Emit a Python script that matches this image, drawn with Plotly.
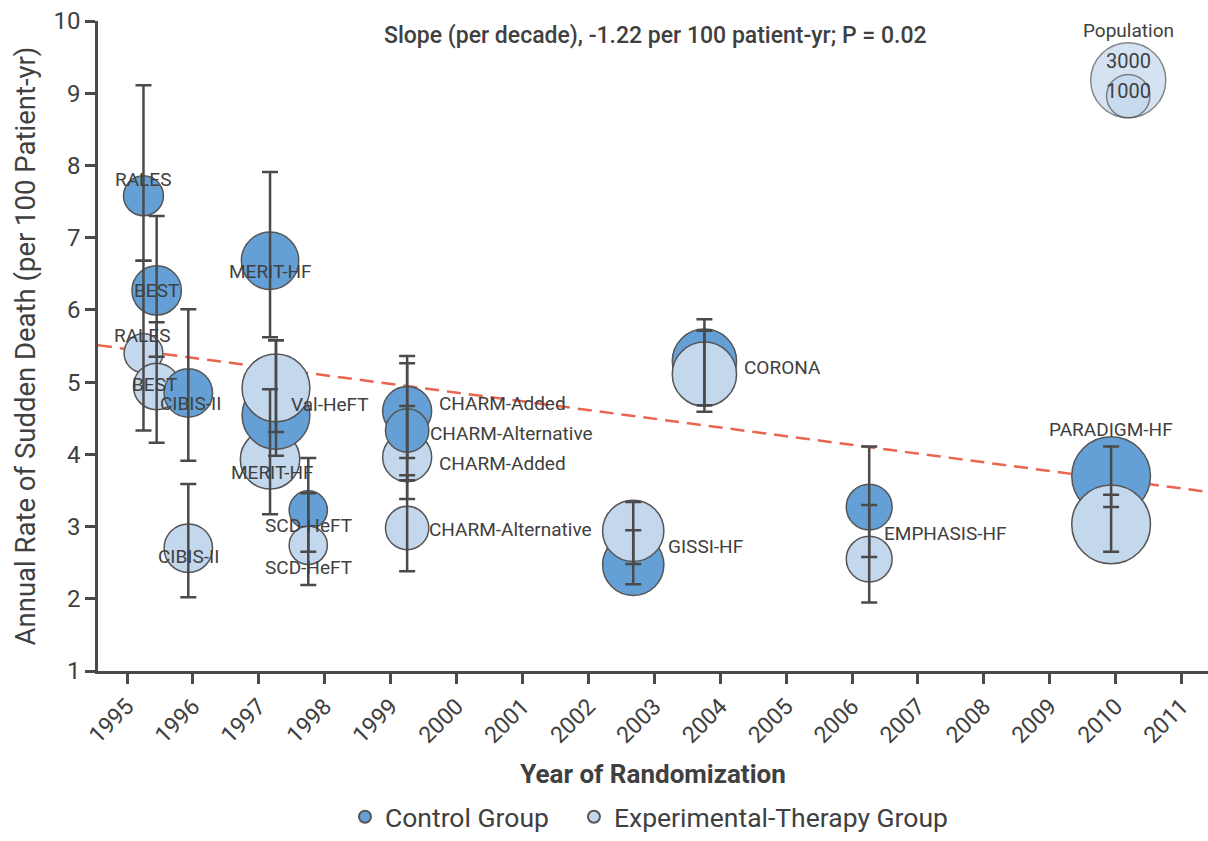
import numpy as np
import plotly.graph_objects as go

# ---------------- data ----------------
trials = ["RALES", "BEST", "CIBIS-II", "MERIT-HF", "Val-HeFT", "SCD-HeFT",
          "CHARM-Added", "CHARM-Alternative", "GISSI-HF", "CORONA",
          "EMPHASIS-HF", "PARADIGM-HF"]
year = [1995.25, 1995.45, 1995.93, 1997.17, 1997.26, 1997.75,
        1999.25, 1999.25, 2002.68, 2003.76, 2006.26, 2009.93]

ctrl_rate = [7.58, 6.27, 4.85, 6.68, 4.54, 3.23, 4.60, 4.33, 2.47, 5.29, 3.27, 3.70]
ctrl_lo   = [6.68, 5.35, 3.91, 5.62, 3.98, 2.65, 3.95, 3.64, 2.20, 4.68, 2.58, 3.27]
ctrl_hi   = [9.11, 7.30, 6.01, 7.91, 5.58, 3.95, 5.36, 5.26, 2.95, 5.87, 4.11, 4.11]
ctrl_n    = [850, 1300, 1250, 1750, 2450, 780, 1280, 1000, 2000, 2200, 1120, 3300]

exp_rate = [5.40, 4.94, 2.70, 3.93, 4.92, 2.74, 3.96, 2.98, 2.94, 5.11, 2.55, 3.03]
exp_lo   = [4.33, 4.16, 2.02, 3.17, 4.31, 2.19, 3.38, 2.38, 2.48, 4.59, 1.95, 2.65]
exp_hi   = [6.68, 5.83, 3.59, 4.90, 5.58, 3.46, 4.67, 3.71, 3.34, 5.71, 3.30, 3.44]
exp_n    = [800, 1150, 1250, 1880, 2450, 780, 1280, 1000, 2000, 2200, 1120, 3300]

ctrl_labels = ["RALES", "BEST", "CIBIS-II", "MERIT-HF", "Val-HeFT", "SCD-HeFT",
               "CHARM-Added", "CHARM-Alternative", "GISSI-HF", "CORONA",
               "EMPHASIS-HF", "PARADIGM-HF"]
exp_labels = ["RALES", "BEST", "CIBIS-II", "MERIT-HF", "", "SCD-HeFT",
              "CHARM-Added", "CHARM-Alternative", "", "", "", ""]

trend_x = [1994.56, 2011.4]
trend_y = [5.51, 3.48]

pop_legend_n = [3000, 1000]
x_ticks = list(range(1995, 2012))
y_ticks = list(range(1, 11))

# ---------------- styles ----------------
C_CTRL = "#64a0d5"
C_EXP = "#c3d7ed"
C_EDGE = "#555555"
C_TXT = "#404040"
C_BAR = "#4a4a4a"
FONT = "Roboto"
SIZEREF = 1.0655   # radius = 0.685 * sqrt(N)

# label offsets (xanchor, xshift px, yshift px)
ctrl_lab_pos = [("center", 0, 16), ("center", 0, 0), ("center", 2, -11),
                ("center", 0, -11), ("left", 13, 11), ("center", 0, -16),
                ("left", 30, 8), ("left", 21, -3), ("left", 33, 18),
                ("left", 38, -6), ("left", 13, -26), ("center", 0, 47)]
exp_lab_pos = [("center", -1, 18), ("center", -2, 2), ("center", 0, -8),
               ("center", 2, -13), None, ("center", 0, -22),
               ("left", 30, -6), ("left", 20, -1), None, None, None, None]

fig = go.Figure()

# trend line (behind bubbles)
fig.add_trace(go.Scatter(x=trend_x, y=trend_y, mode="lines",
                         line=dict(color="#e8664f", width=2.5, dash="14px,8px"),
                         showlegend=False, hoverinfo="skip"))

# bubbles: trial by trial, control then experimental
bx, by, bn, bc = [], [], [], []
for i in range(len(trials)):
    bx += [year[i], year[i]]
    by += [ctrl_rate[i], exp_rate[i]]
    bn += [ctrl_n[i], exp_n[i]]
    bc += [C_CTRL, C_EXP]
fig.add_trace(go.Scatter(x=bx, y=by, mode="markers", showlegend=False,
                         marker=dict(size=bn, sizemode="area", sizeref=SIZEREF,
                                     color=bc, opacity=1,
                                     line=dict(color=C_EDGE, width=1.5))))

# error bars on top
for rate, lo, hi in [(ctrl_rate, ctrl_lo, ctrl_hi), (exp_rate, exp_lo, exp_hi)]:
    fig.add_trace(go.Scatter(
        x=year, y=rate, mode="markers", showlegend=False, hoverinfo="skip",
        marker=dict(size=1, color="rgba(0,0,0,0)"),
        error_y=dict(type="data", symmetric=False,
                     array=[h - r for h, r in zip(hi, rate)],
                     arrayminus=[r - l for r, l in zip(rate, lo)],
                     color=C_BAR, thickness=2.5, width=8)))

# population legend bubbles
fig.add_trace(go.Scatter(x=[2010.19, 2010.19], y=[9.18, 8.96], mode="markers",
                         showlegend=False, hoverinfo="skip",
                         marker=dict(size=pop_legend_n, sizemode="area", sizeref=SIZEREF,
                                     color=C_EXP, line=dict(color=C_EDGE, width=1.5))))

# legend entries (two legends for exact spacing)
fig.add_trace(go.Scatter(x=[None], y=[None], mode="markers", name="Control Group",
                         legend="legend",
                         marker=dict(size=19, color=C_CTRL, line=dict(color=C_EDGE, width=1.5))))
fig.add_trace(go.Scatter(x=[None], y=[None], mode="markers", name="Experimental-Therapy Group",
                         legend="legend2",
                         marker=dict(size=19, color=C_EXP, line=dict(color=C_EDGE, width=1.5))))

ann = []
lab_font = dict(family=FONT, size=19, color=C_TXT)
for i in range(len(trials)):
    for labs, rates, pos in [(ctrl_labels, ctrl_rate, ctrl_lab_pos), (exp_labels, exp_rate, exp_lab_pos)]:
        if labs[i] and pos[i] is not None:
            xa, xs, ys = pos[i]
            ann.append(dict(x=year[i], y=rates[i], text=labs[i], showarrow=False,
                            xanchor=xa, yanchor="middle", xshift=xs, yshift=ys,
                            font=lab_font))

ann.append(dict(x=0.502, xref="paper", y=10, yref="y", yshift=-14,
                text="Slope (per decade), -1.22 per 100 patient-yr; P = 0.02",
                showarrow=False, font=dict(family=FONT, size=23, color=C_TXT, weight=500)))
ann.append(dict(x=2010.19, y=10, text="Population", showarrow=False, yshift=-9,
                font=dict(family=FONT, size=19, color=C_TXT)))
ann.append(dict(x=2010.19, y=9.18, text="3000", showarrow=False, yshift=19,
                font=dict(family=FONT, size=20, color=C_TXT)))
ann.append(dict(x=2010.19, y=8.96, text="1000", showarrow=False, yshift=5,
                font=dict(family=FONT, size=20, color=C_TXT)))

leg_common = dict(orientation="h", xanchor="left", y=-0.2615, yanchor="bottom",
                  font=dict(family=FONT, size=26.5, color=C_TXT), itemsizing="constant",
                  bgcolor="rgba(0,0,0,0)", maxheight=120)

fig.update_layout(
    width=1208, height=841,
    margin=dict(l=98, r=0, t=21, b=170, autoexpand=False),
    plot_bgcolor="white", paper_bgcolor="white",
    font=dict(family=FONT, color=C_TXT),
    annotations=ann,
    legend=dict(x=0.2225, **leg_common),
    legend2=dict(x=0.4288, **leg_common),
    xaxis=dict(range=trend_x, tickvals=x_ticks, ticktext=[str(v) for v in x_ticks],
               tickangle=-45, ticks="outside", ticklen=10, tickwidth=2.5, tickcolor=C_BAR,
               showline=True, linecolor=C_BAR, linewidth=2.5, showgrid=False, zeroline=False,
               automargin=False,
               tickfont=dict(family=FONT, size=23, color=C_TXT),
               title=dict(text="<b>Year of Randomization</b>", font=dict(family=FONT, size=26, color=C_TXT),
                          standoff=18)),
    yaxis=dict(range=[1, 10], tickvals=y_ticks, ticks="outside", ticklen=10, tickwidth=2.5,
               tickcolor=C_BAR, showline=True, linecolor=C_BAR, linewidth=2.5,
               showgrid=False, zeroline=False, automargin=False,
               tickfont=dict(family=FONT, size=24, color=C_TXT),
               title=dict(text="Annual Rate of Sudden Death (per 100 Patient-yr)",
                          font=dict(family=FONT, size=27.5, color=C_TXT), standoff=10)),
)

fig.write_html("out.html")
